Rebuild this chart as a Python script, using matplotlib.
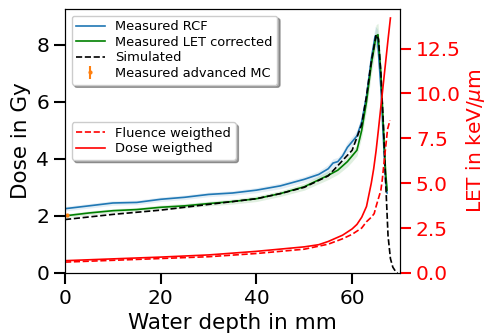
import numpy as np
import matplotlib
matplotlib.use('Agg')
import matplotlib.pyplot as plt

# measured RCF dose (Gy) vs water depth (mm)
rcf_x = [0, 5, 10, 15, 20, 25, 30, 35, 40, 45, 50, 53, 55, 56, 57, 58, 59, 60, 61, 62, 63, 64, 64.8, 65.3, 66, 66.5, 67, 67.3]
rcf_y = [2.25, 2.35, 2.45, 2.47, 2.58, 2.65, 2.75, 2.8, 2.9, 3.05, 3.28, 3.45, 3.65, 3.85, 3.9, 4.1, 4.4, 4.6, 4.8, 5.3, 6.2, 7.5, 8.3, 8.2, 6.5, 4.8, 3.2, 2.8]
rcf_err = [0.08, 0.08, 0.08, 0.08, 0.08, 0.08, 0.08, 0.08, 0.09, 0.1, 0.1, 0.12, 0.15, 0.15, 0.15, 0.15, 0.18, 0.18, 0.2, 0.2, 0.25, 0.3, 0.35, 0.35, 0.3, 0.25, 0.2, 0.2]

# measured, LET corrected
let_corr_x = [0, 5, 10, 15, 20, 25, 30, 35, 40, 45, 50, 55, 57, 59, 60, 61, 62, 63, 64, 65, 65.4, 66, 66.5, 67, 67.3]
let_corr_y = [2.0, 2.1, 2.18, 2.22, 2.3, 2.35, 2.43, 2.5, 2.6, 2.78, 3.02, 3.42, 3.6, 3.9, 4.1, 4.3, 5.0, 6.0, 7.3, 8.3, 8.35, 7.0, 5.2, 3.5, 2.9]
let_corr_err = [0.07, 0.07, 0.07, 0.07, 0.08, 0.08, 0.08, 0.09, 0.1, 0.1, 0.12, 0.15, 0.15, 0.18, 0.2, 0.2, 0.25, 0.3, 0.35, 0.4, 0.4, 0.35, 0.3, 0.25, 0.2]

# simulated dose
sim_x = [0, 10, 20, 30, 40, 45, 50, 55, 60, 62, 63, 64, 65, 65.5, 66, 66.5, 67, 67.5, 68, 68.5, 69, 69.5]
sim_y = [1.87, 2.05, 2.2, 2.4, 2.6, 2.78, 3.0, 3.4, 4.3, 5.2, 6.2, 7.4, 8.35, 8.2, 7.0, 5.3, 3.2, 1.3, 0.5, 0.2, 0.07, 0.0]

# advanced MC point
mc_x = [0.5]
mc_y = [2.02]
mc_err = [0.06]

# LET (keV/um)
let_d_x = [0, 10, 20, 30, 40, 50, 53, 55, 58, 60, 61, 62, 63, 64, 64.5, 65, 65.5, 66.5, 67.5, 68]
let_d_y = [0.68, 0.78, 0.88, 1.0, 1.2, 1.45, 1.57, 1.75, 2.1, 2.45, 2.7, 3.1, 3.7, 5.0, 5.8, 6.8, 8.0, 10.5, 13.0, 14.2]
let_f_x = [0, 10, 20, 30, 40, 50, 55, 58, 60, 62, 63, 64, 64.6, 65, 66, 66.3, 67, 67.4, 67.9]
let_f_y = [0.6, 0.7, 0.8, 0.9, 1.08, 1.32, 1.6, 1.9, 2.15, 2.5, 2.85, 3.1, 3.3, 3.7, 4.6, 5.2, 7.0, 8.0, 8.5]

fig = plt.figure(figsize=(4.89, 3.34), dpi=100)
ax = fig.add_axes([0.133, 0.183, 0.685, 0.79])

rcf_y = np.array(rcf_y); rcf_err = np.array(rcf_err)
let_corr_y = np.array(let_corr_y); let_corr_err = np.array(let_corr_err)

ax.plot(rcf_x, rcf_y, color='tab:blue', lw=1.2, label='Measured RCF')
ax.fill_between(rcf_x, rcf_y - rcf_err, rcf_y + rcf_err, color='tab:blue', alpha=0.12, lw=0)
ax.plot(let_corr_x, let_corr_y, color='green', lw=1.2, label='Measured LET corrected')
ax.fill_between(let_corr_x, let_corr_y - let_corr_err, let_corr_y + let_corr_err, color='green', alpha=0.12, lw=0)
ax.plot(sim_x, sim_y, color='black', ls='--', lw=1.2, label='Simulated')
ax.errorbar(mc_x, mc_y, yerr=mc_err, fmt='.', color='tab:orange', ms=4, label='Measured advanced MC')

ax.set_xlim(0, 70)
ax.set_ylim(0, 9.25)
ax.set_xlabel('Water depth in mm', fontsize=15.5)
ax.set_ylabel('Dose in Gy', fontsize=15.5)
ax.tick_params(labelsize=14.5, length=8, width=1.5)
ax.legend(loc='upper left', fontsize=9.4, shadow=True, labelspacing=0.2,
          borderpad=0.35, handlelength=2.2)

ax2 = ax.twinx()
ax2.plot(let_f_x, let_f_y, color='red', ls='--', lw=1.2, label='Fluence weigthed')
ax2.plot(let_d_x, let_d_y, color='red', lw=1.2, label='Dose weigthed')
ax2.set_ylim(0, 14.7)
ax2.set_ylabel('LET in keV/$\\mu$m', fontsize=14.5, color='red', labelpad=2)
ax2.tick_params(labelsize=14.5, length=8, width=1.5, colors='red')
ax2.legend(loc='center left', fontsize=9.4, shadow=True, labelspacing=0.2,
           borderpad=0.35, handlelength=2.2)

fig.savefig('out.png', dpi=100)
